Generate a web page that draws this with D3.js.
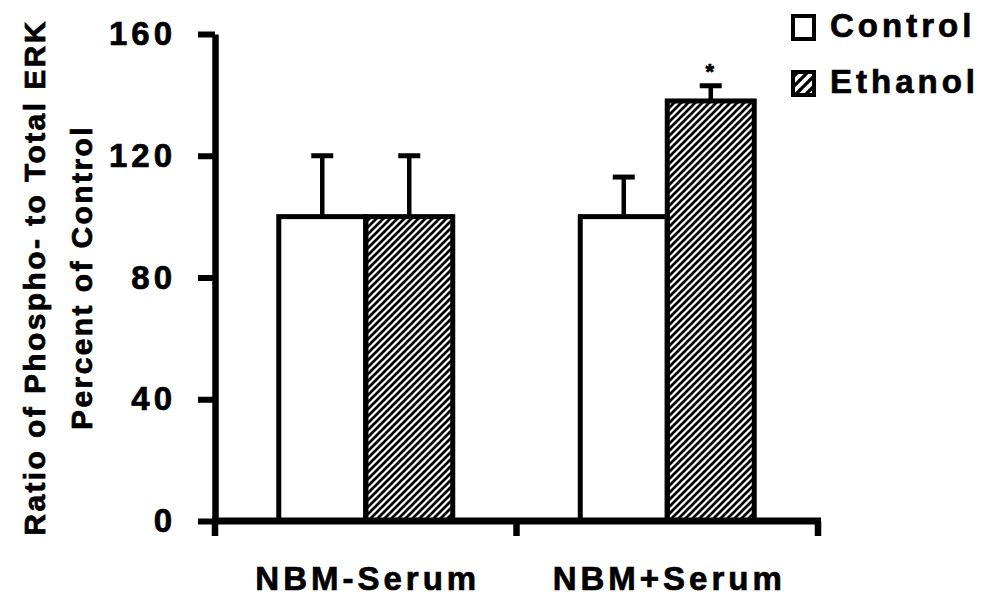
<!DOCTYPE html>
<html>
<head>
<meta charset="utf-8">
<script src="https://cdn.jsdelivr.net/npm/d3@7/dist/d3.min.js"></script>
<style>
  html, body { margin: 0; padding: 0; background: #fff; }
  svg { display: block; }
  text { font-family: "Liberation Sans", Arial, sans-serif; font-weight: bold; fill: #000; stroke: #000; stroke-width: 0.7px; }
</style>
</head>
<body>
<script>
// Phospho-ERK / total ERK, percent of control
const categories = ["NBM-Serum", "NBM+Serum"];
const seriesNames = ["Control", "Ethanol"];
const controlMeans = [100, 100];
const controlErrors = [20, 13];
const ethanolMeans = [100, 138];
const ethanolErrors = [20, 5];
const ethanolMarks = ["", "*"];
const yTicks = [0, 40, 80, 120, 160];
const yTitleLines = ["Ratio of Phospho- to Total ERK", "Percent of Control"];

const W = 990, H = 604;
const plot = { left: 215, right: 818, top: 34, bottom: 521 };

const svg = d3.select("body").append("svg")
  .attr("width", W).attr("height", H);

const defs = svg.append("defs");
function hatch(id, size, sw) {
  defs.append("pattern")
    .attr("id", id)
    .attr("patternUnits", "userSpaceOnUse")
    .attr("width", size).attr("height", size)
    .append("path")
    .attr("d", `M-1,1 l2,-2 M0,${size} l${size},-${size} M${size - 1},${size + 1} l2,-2`)
    .attr("stroke", "#000").attr("stroke-width", sw);
}
hatch("hatch", 7, 2.7);
hatch("hatchLegend", 10, 3.2);

const y = d3.scaleLinear().domain([0, 160]).range([plot.bottom, plot.top]);
const x0 = d3.scaleBand().domain(categories).range([plot.left, plot.right]);
const x1 = d3.scaleBand().domain(seriesNames).range([0, x0.bandwidth()])
  .paddingInner(0).paddingOuter(0.733);

const rows = categories.flatMap((c, i) => [
  { cat: c, s: "Control", mean: controlMeans[i], err: controlErrors[i], mark: "" },
  { cat: c, s: "Ethanol", mean: ethanolMeans[i], err: ethanolErrors[i], mark: ethanolMarks[i] }
]);
const fillFor = s => s === "Control" ? "#fff" : "url(#hatch)";

// error bars (upper only)
const eb = svg.append("g");
rows.forEach(d => {
  const cx = x0(d.cat) + x1(d.s) + x1.bandwidth() / 2;
  eb.append("line")
    .attr("x1", cx).attr("x2", cx)
    .attr("y1", y(d.mean)).attr("y2", y(d.mean + d.err))
    .attr("stroke", "#000").attr("stroke-width", 4.5);
  eb.append("line")
    .attr("x1", cx - 11).attr("x2", cx + 11)
    .attr("y1", y(d.mean + d.err)).attr("y2", y(d.mean + d.err))
    .attr("stroke", "#000").attr("stroke-width", 5);
  if (d.mark) {
    svg.append("text")
      .attr("x", cx - 1).attr("y", y(d.mean + d.err) - 7)
      .attr("text-anchor", "middle")
      .attr("font-size", 22)
      .text(d.mark);
  }
});

// bars
svg.append("g").selectAll("rect").data(rows).join("rect")
  .attr("x", d => x0(d.cat) + x1(d.s))
  .attr("width", x1.bandwidth())
  .attr("y", d => y(d.mean))
  .attr("height", d => y(0) - y(d.mean))
  .attr("fill", d => fillFor(d.s))
  .attr("stroke", "#000").attr("stroke-width", 5);

// y axis
const yAxis = svg.append("g")
  .attr("transform", `translate(${plot.left},0)`)
  .call(d3.axisLeft(y).tickValues(yTicks).tickSize(17).tickSizeOuter(0).tickPadding(22));
yAxis.select(".domain").attr("stroke", "#000").attr("stroke-width", 6.5);
yAxis.selectAll(".tick line").attr("stroke", "#000").attr("stroke-width", 6);
yAxis.selectAll(".tick text")
  .attr("font-family", null)
  .attr("font-size", 33)
  .style("letter-spacing", "4px");
yAxis.attr("font-family", null).attr("font-size", null);

// x axis: baseline with ticks at category boundaries
const bounds = categories.map(c => x0(c)).concat([x0.range()[1]]);
const xAxis = svg.append("g");
xAxis.append("line")
  .attr("x1", x0.range()[0] - 3).attr("x2", x0.range()[1] + 3)
  .attr("y1", y(0)).attr("y2", y(0))
  .attr("stroke", "#000").attr("stroke-width", 7);
xAxis.selectAll(".bt").data(bounds).join("line")
  .attr("class", "bt")
  .attr("x1", d => d).attr("x2", d => d)
  .attr("y1", y(0)).attr("y2", y(0) + 15)
  .attr("stroke", "#000").attr("stroke-width", 6.5);
xAxis.selectAll(".cl").data(categories).join("text")
  .attr("class", "cl")
  .attr("x", d => x0(d) + x0.bandwidth() / 2 + 2)
  .attr("y", y(0) + 69)
  .attr("text-anchor", "middle")
  .attr("font-size", 33)
  .style("letter-spacing", "4px")
  .text(d => d);

// y axis title
yTitleLines.forEach((t, i) => {
  svg.append("text")
    .attr("transform", `translate(${45 + i * 47},${(plot.top + plot.bottom) / 2}) rotate(-90)`)
    .attr("text-anchor", "middle")
    .attr("font-size", 30)
    .style("letter-spacing", "2.4px")
    .text(t);
});

// legend
const legend = svg.append("g");
seriesNames.forEach((s, i) => {
  const gy = 16 + i * 56;
  legend.append("rect")
    .attr("x", 793).attr("y", gy)
    .attr("width", 21).attr("height", 23)
    .attr("fill", s === "Control" ? "#fff" : "url(#hatchLegend)")
    .attr("stroke", "#000").attr("stroke-width", 4);
  legend.append("text")
    .attr("x", 830).attr("y", gy + 21)
    .attr("font-size", 33)
    .style("letter-spacing", "4px")
    .text(s);
});
</script>
</body>
</html>
